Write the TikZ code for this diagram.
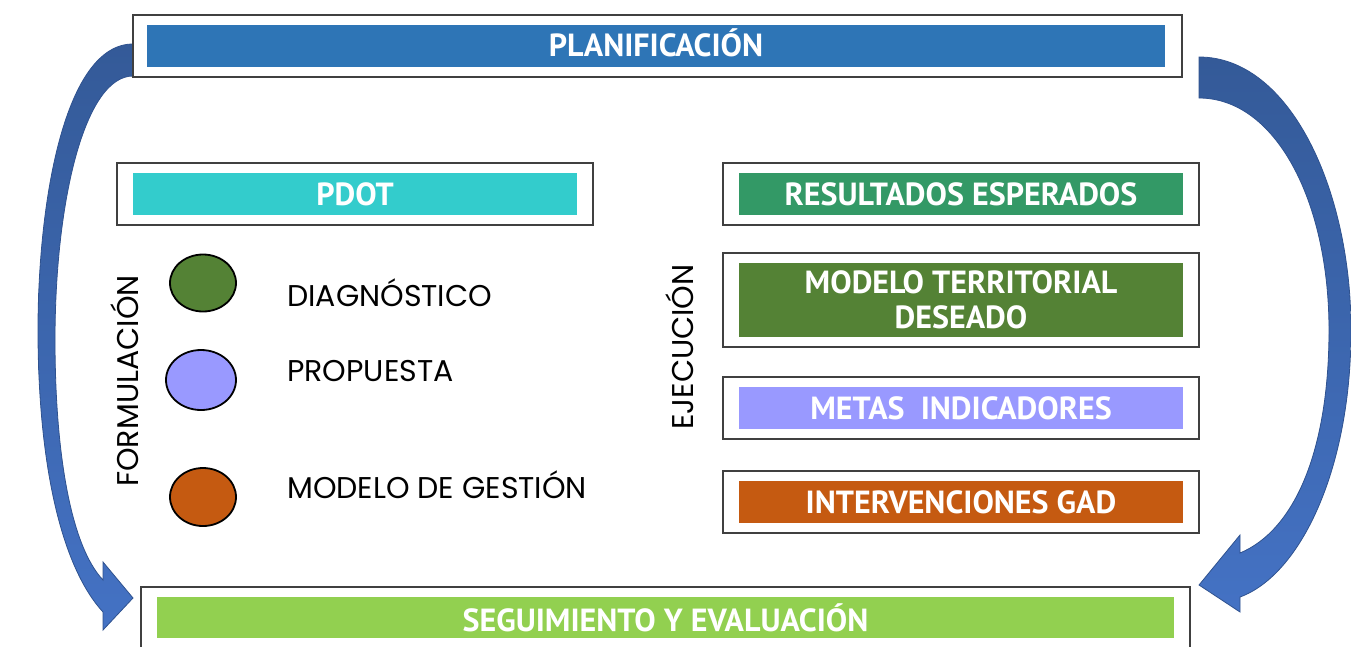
\documentclass[tikz,border=0pt]{standalone}
\usepackage{fontspec}
\setmainfont{Poppins}
\newfontfamily\boldf{PT Sans}
\usetikzlibrary{shapes.geometric}
\definecolor{cplan}{HTML}{2E75B6}
\definecolor{cpdot}{HTML}{33CCCC}
\definecolor{cres}{HTML}{339966}
\definecolor{cmod}{HTML}{548235}
\definecolor{cmet}{HTML}{9999FF}
\definecolor{cint}{HTML}{C55A11}
\definecolor{cseg}{HTML}{92D050}
\definecolor{arrdark}{HTML}{345A98}
\definecolor{arrlight}{HTML}{4472C4}
\definecolor{arredge}{HTML}{2F528F}
\tikzset{
  outerbox/.style={draw=black!75, line width=1.3pt, fill=white, inner sep=0pt},
  innerbox/.style={inner sep=0pt, text=white, font=\boldf\bfseries\fontsize{32}{35}\selectfont, align=center},
  dot/.style={ellipse, draw=black, line width=1.8pt, inner sep=0pt},
  lbl/.style={anchor=west, inner sep=0pt, font=\fontsize{30}{32}\selectfont},
  vlbl/.style={rotate=90, inner sep=0pt, font=\fontsize{30}{32}\selectfont},
  blockarrow/.style={draw=arredge, line width=0.8pt, top color=arrdark, bottom color=arrlight}
}
\begin{document}
\begin{tikzpicture}[x=1pt,y=-1pt]
\useasboundingbox (0,0) rectangle (1351,646);
% arrows
\path[blockarrow] (133,44) .. controls (65,44) and (38,200) .. (38,330)
  .. controls (38,460) and (60,565) .. (103,612) -- (103,630) -- (133,598) -- (103,562) -- (103,580)
  .. controls (70,545) and (55,450) .. (55,340)
  .. controls (55,200) and (85,76) .. (133,76) -- cycle;
\path[blockarrow] (1199,57) .. controls (1290,57) and (1351,190) .. (1351,330)
  .. controls (1351,470) and (1300,575) .. (1240,597) -- (1240,612) -- (1199,585) -- (1240,535) -- (1240,553)
  .. controls (1295,530) and (1329,450) .. (1329,330)
  .. controls (1329,200) and (1275,98) .. (1199,98) -- cycle;
% top
\node[outerbox, minimum width=1049pt, minimum height=62pt] (planO) at (657.5,46) {};
\node[fill=cplan, inner sep=0pt, minimum width=1018pt, minimum height=42pt] (plan) at (656,46) {};
\node[innerbox] (planT) at (656,43) {PLANIFICACIÓN};
% PDOT
\node[outerbox, minimum width=476pt, minimum height=62pt] (pdotO) at (355,194) {};
\node[innerbox, fill=cpdot, minimum width=444pt, minimum height=42pt] (pdot) at (355,194) {PDOT};
% circles
\node[dot, fill=cmod, minimum width=66pt, minimum height=57pt] (c1) at (203,283) {};
\node[dot, fill=cmet, minimum width=70pt, minimum height=60pt] (c2) at (201,380) {};
\node[dot, fill=cint, minimum width=66pt, minimum height=58pt] (c3) at (203,497) {};
\node[lbl] (l1) at (287,293) {DIAGNÓSTICO};
\node[lbl] (l2) at (287,371) {PROPUESTA};
\node[lbl] (l3) at (287,485) {MODELO DE GESTIÓN};
\node[vlbl] (form) at (125,381) {FORMULACIÓN};
\node[vlbl] (ejec) at (680,347) {EJECUCIÓN};
% right boxes
\node[outerbox, minimum width=476pt, minimum height=62pt] (r1O) at (961,194) {};
\node[innerbox, fill=cres, minimum width=444pt, minimum height=42pt] (r1) at (961,194) {RESULTADOS ESPERADOS};
\node[outerbox, minimum width=476pt, minimum height=94pt] (r2O) at (961,300) {};
\node[innerbox, fill=cmod, minimum width=444pt, minimum height=74pt] (r2) at (961,300) {MODELO TERRITORIAL\\DESEADO};
\node[outerbox, minimum width=476pt, minimum height=62pt] (r3O) at (961,408) {};
\node[innerbox, fill=cmet, minimum width=444pt, minimum height=42pt] (r3) at (961,408) {METAS\ \ INDICADORES};
\node[outerbox, minimum width=476pt, minimum height=62pt] (r4O) at (961,502) {};
\node[innerbox, fill=cint, minimum width=444pt, minimum height=42pt] (r4) at (961,502) {INTERVENCIONES GAD};
% bottom
\node[outerbox, minimum width=1049pt, minimum height=70pt] (segO) at (665.5,622) {};
\node[innerbox, fill=cseg, minimum width=1017pt, minimum height=41pt] (seg) at (665.5,617.5) {SEGUIMIENTO Y EVALUACIÓN};
\end{tikzpicture}
\end{document}
